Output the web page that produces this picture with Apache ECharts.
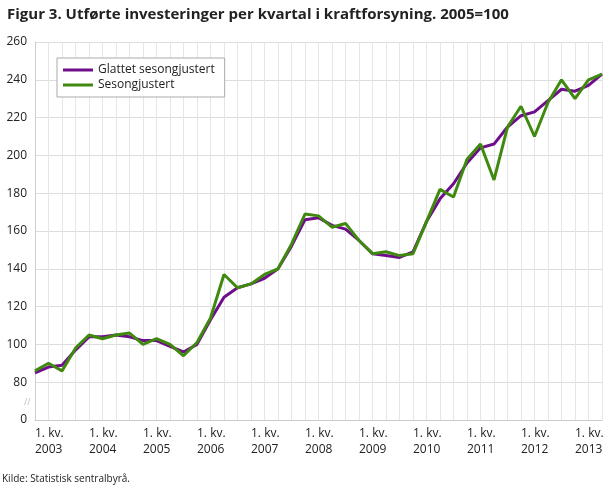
<!DOCTYPE html>
<html><head><meta charset="utf-8">
<script src="https://cdn.jsdelivr.net/npm/echarts@6/dist/echarts.min.js"></script>
<style>html,body{margin:0;padding:0;background:#fff}#c{width:610px;height:488px}</style>
</head><body><div id="c"></div>
<script>
const years=[2003,2004,2005,2006,2007,2008,2009,2010,2011,2012,2013];
const categories=[];
years.forEach(y=>{for(let q=1;q<=4;q++){if(categories.length<43)categories.push(q+'. kv. '+y);}});
const smoothed=[85,88,89,97,104,104,105,104,102,102,99,96,100,113,125,130,132,135,140,152,166,167,163,161,155,148,147,146,149,165,177,185,196,204,206,215,221,223,229,235,234,237,243];
const seasonal=[86,90,86,98,105,103,105,106,100,103,100,94,101,114,137,130,132,137,140,153,169,168,162,164,155,148,149,147,148,165,182,178,198,206,187,215,226,210,228,240,230,240,243];
const chart=echarts.init(document.getElementById('c'));
const F='"Open Sans", sans-serif';
chart.setOption({
 animation:false,
 title:{text:'Figur 3. Utførte investeringer per kvartal i kraftforsyning. 2005=100',left:2,top:2,textStyle:{fontFamily:F,fontSize:15,fontWeight:'bold',color:'#222'}},
 legend:{left:57,top:58,orient:'vertical',itemGap:3,padding:[6,10,6,6],borderColor:'#aaa',borderWidth:1,backgroundColor:'#fff',itemWidth:30,itemHeight:3,icon:'rect',textStyle:{fontFamily:F,fontSize:12,color:'#222'},data:['Glattet sesongjustert','Sesongjustert']},
 graphic:[{type:'text',left:2,top:474,style:{text:'Kilde: Statistisk sentralbyrå.',font:'10px '+F,fill:'#222'}},
  {type:'text',left:24,top:398,style:{text:'//',font:'9px '+F,fill:'#bbb'}}],
 grid:{left:35,right:8,top:42,bottom:68},
 xAxis:{type:'category',boundaryGap:false,data:categories,
  axisLine:{show:true,lineStyle:{color:'#ccc'}},axisTick:{show:false},
  splitLine:{show:true,interval:0,lineStyle:{color:'#e6e6e6'}},
  axisLabel:{interval:i=>i%4===0,formatter:v=>{const p=v.split(' ');return p[0]+' '+p[1]+'\n'+p[2];},fontFamily:F,fontSize:12,color:'#222',lineHeight:16,align:'left',margin:6}},
 yAxis:{type:'value',min:60,max:260,interval:20,
  axisLine:{show:true,lineStyle:{color:'#ccc'}},
  splitLine:{lineStyle:{color:'#ddd'}},
  axisLabel:{formatter:v=>v===60?'0':String(v),fontFamily:F,fontSize:12,color:'#222',margin:8}},
 series:[
  {name:'Glattet sesongjustert',type:'line',data:smoothed,showSymbol:false,lineStyle:{width:3,color:'#6e0e8a'},itemStyle:{color:'#6e0e8a'}},
  {name:'Sesongjustert',type:'line',data:seasonal,showSymbol:false,lineStyle:{width:3,color:'#3f8a0e'},itemStyle:{color:'#3f8a0e'}}
 ]
});
</script></body></html>
